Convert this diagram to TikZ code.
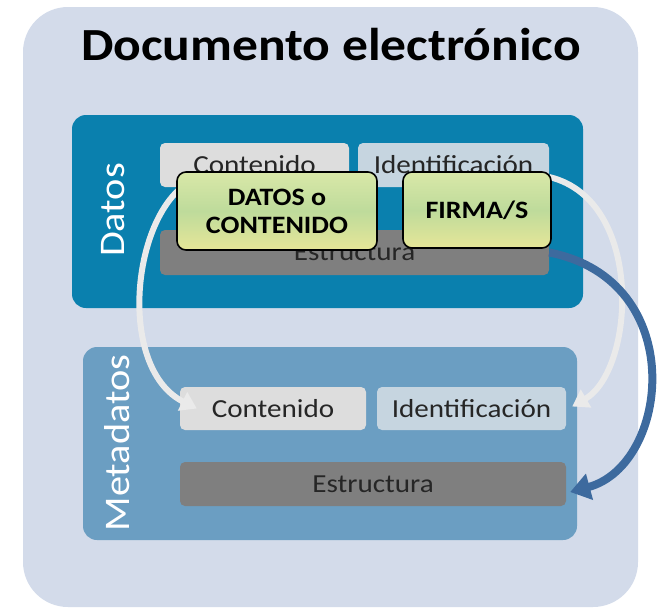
\documentclass[tikz,border=0pt]{standalone}
\usepackage{fontspec}
\setmainfont{Carlito}[FakeStretch=1.12]
\usetikzlibrary{arrows.meta}
\definecolor{fondo}{HTML}{D3DBEA}
\definecolor{azulDatos}{HTML}{0A80AE}
\definecolor{azulMeta}{HTML}{6B9EC2}
\definecolor{grisClaro}{HTML}{DDDDDD}
\definecolor{grisAzul}{HTML}{C6D5E0}
\definecolor{grisOscuro}{HTML}{7F7F7F}
\definecolor{texto}{HTML}{262626}
\definecolor{verdeA}{HTML}{D9E8A8}
\definecolor{verdeB}{HTML}{BEDB9B}
\definecolor{amarillo}{HTML}{E6E698}
\definecolor{blanco}{HTML}{EAEAEA}
\definecolor{azulFlecha}{HTML}{3D6A9E}
\begin{document}
\begin{tikzpicture}[x=1pt,y=-1pt,
  panel/.style={fill=#1,rounded corners=14pt,inner sep=0pt},
  caja/.style={fill=#1,rounded corners=5pt,inner sep=0pt,text=texto,
    font=\fontsize{26}{28}\selectfont},
  rotulo/.style={rotate=90,text=white,font=\fontsize{36}{40}\selectfont},
  sello/.style={draw=black,line width=1.6pt,rounded corners=9pt,inner sep=0pt,
    top color=verdeA,bottom color=amarillo,middle color=verdeB,
    align=center,font=\bfseries\fontsize{25}{28}\selectfont},
  flecha/.style={line width=6pt,draw=#1,-{Triangle[length=16pt,width=20pt]}}]
  \useasboundingbox (0,0) rectangle (663,608);
  \fill[fondo,rounded corners=45pt] (23,7) rectangle (638,607);
  \node[font=\bfseries\fontsize{46}{50}\selectfont] (titulo) at (331,45) {Documento electrónico};

  % bloque de datos
  \node[panel=azulDatos,minimum width=511pt,minimum height=193pt] (datos) at (327.5,211.5) {};
  \node[rotulo] (lDatos) at (113,210) {Datos};
  \node[caja=grisClaro,minimum width=189pt,minimum height=44pt] (dC) at (254.5,165) {Contenido};
  \node[caja=grisAzul,minimum width=191pt,minimum height=44pt] (dI) at (453.5,165) {Identificación};
  \node[caja=grisOscuro,minimum width=389pt,minimum height=45pt] (dE) at (354.5,252.5) {Estructura};

  % bloque de metadatos
  \node[panel=azulMeta,minimum width=494pt,minimum height=193pt] (meta) at (330,443.5) {};
  \node[rotulo] (lMeta) at (117,443) {Metadatos};
  \node[caja=grisClaro,minimum width=186pt,minimum height=43pt] (mC) at (273,408.5) {Contenido};
  \node[caja=grisAzul,minimum width=189pt,minimum height=43pt] (mI) at (471.5,408.5) {Identificación};
  \node[caja=grisOscuro,minimum width=386pt,minimum height=44pt] (mE) at (373,484) {Estructura};

  % flechas
  \draw[flecha=blanco] ([xshift=22pt]dC.south west) .. controls (130,230) and (120,370) .. ([xshift=17pt]mC.west);
  \draw[flecha=blanco] ([yshift=-12pt]dI.east) .. controls (645,200) and (635,370) .. ([xshift=6pt,yshift=2pt]mI.east);
  \draw[flecha=azulFlecha,line width=8pt,-{Triangle[length=20pt,width=26pt]}] (dE.east) .. controls (690,280) and (670,465) .. ([xshift=4pt,yshift=-8pt]mE.east);

  \node[sello,minimum width=200pt,minimum height=78pt] (contenido) at (277,211) {DATOS o\\CONTENIDO};
  \node[sello,minimum width=148pt,minimum height=76pt] (firma) at (477,210) {FIRMA/S};
\end{tikzpicture}
\end{document}
